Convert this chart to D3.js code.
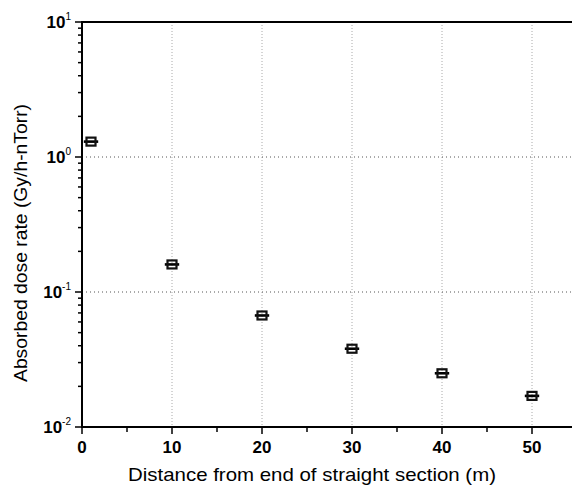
<!DOCTYPE html>
<html>
<head>
<meta charset="utf-8">
<script src="https://cdn.jsdelivr.net/npm/d3@7"></script>
<style>
  body { margin: 0; background: #fff; overflow: hidden; }
  svg { font-family: "Liberation Sans", Arial, sans-serif; display: block; }
</style>
</head>
<body>
<svg id="chart" width="572" height="489"></svg>
<script>
// data
const distance = [1, 10, 20, 30, 40, 50];
const doseRate = [1.3, 0.16, 0.067, 0.038, 0.025, 0.017];
const xError = [0.8, 0.8, 0.8, 0.8, 0.8, 0.8];
const xTicks = [0, 10, 20, 30, 40, 50];
const yDecades = [-2, -1, 0, 1];

const W = 572;
const svg = d3.select('#chart');

const x = d3.scaleLinear().domain([0, 55]).range([82, 577]);
const y = d3.scaleLog().domain([0.01, 10]).range([427, 22]);

// grid
const grid = svg.append('g');
grid.selectAll('.vg').data(xTicks.filter(d => d > 0)).enter().append('line')
  .attr('x1', d => x(d)).attr('x2', d => x(d))
  .attr('y1', y(10)).attr('y2', y(0.01))
  .attr('stroke', '#aaa').attr('stroke-width', 1).attr('stroke-dasharray', '1,2');
grid.selectAll('.hg').data([1, 0.1]).enter().append('line')
  .attr('x1', x(0)).attr('x2', W)
  .attr('y1', d => y(d)).attr('y2', d => y(d))
  .attr('stroke', '#555').attr('stroke-width', 1).attr('stroke-dasharray', '1,3');

// top line
svg.append('line').attr('x1', x(0)).attr('x2', W)
  .attr('y1', y(10)).attr('y2', y(10))
  .attr('stroke', '#000').attr('stroke-width', 2);

// x axis
const xAxis = svg.append('g').attr('transform', `translate(0,${y(0.01)})`);
xAxis.append('line').attr('x1', x(0)).attr('x2', W).attr('stroke', '#000').attr('stroke-width', 2);
xAxis.selectAll('.maj').data(xTicks).enter().append('line')
  .attr('x1', d => x(d)).attr('x2', d => x(d)).attr('y1', 0).attr('y2', 7)
  .attr('stroke', '#000').attr('stroke-width', 1.5);
xAxis.selectAll('.min').data(d3.range(5, 55, 10)).enter().append('line')
  .attr('x1', d => x(d)).attr('x2', d => x(d)).attr('y1', 0).attr('y2', 5)
  .attr('stroke', '#000').attr('stroke-width', 1.5);
xAxis.selectAll('text').data(xTicks).enter().append('text')
  .attr('x', d => x(d)).attr('y', 26)
  .attr('text-anchor', 'middle').attr('font-size', 17).attr('font-weight', 'bold')
  .text(d => d);

// y axis
const yAxis = svg.append('g').attr('transform', `translate(${x(0)},0)`);
yAxis.append('line').attr('y1', y(0.01) + 1).attr('y2', y(10) - 1).attr('stroke', '#000').attr('stroke-width', 2);
yAxis.selectAll('.maj').data(yDecades).enter().append('line')
  .attr('x1', -7).attr('x2', 0).attr('y1', d => y(Math.pow(10, d))).attr('y2', d => y(Math.pow(10, d)))
  .attr('stroke', '#000').attr('stroke-width', 1.5);
const minors = [];
[-2, -1, 0].forEach(e => { for (let k = 2; k <= 9; k++) minors.push(k * Math.pow(10, e)); });
yAxis.selectAll('.min').data(minors).enter().append('line')
  .attr('x1', -4).attr('x2', 0).attr('y1', d => y(d)).attr('y2', d => y(d))
  .attr('stroke', '#000').attr('stroke-width', 1.5);
const yl = yAxis.selectAll('.lab').data(yDecades).enter().append('text')
  .attr('x', -11).attr('y', d => y(Math.pow(10, d)) + 6)
  .attr('text-anchor', 'end').attr('font-size', 17).attr('font-weight', 'bold');
yl.append('tspan').text('10');
yl.append('tspan').attr('dy', -8).attr('font-size', 10).attr('font-weight', 'normal').text(d => d < 0 ? '-' + Math.abs(d) : d);

// data markers
const pts = svg.append('g');
const pd = distance.map((d, i) => ({ x: d, y: doseRate[i], e: xError[i] }));
pts.selectAll('.eb').data(pd).enter().append('line')
  .attr('x1', d => x(d.x - d.e)).attr('x2', d => x(d.x + d.e))
  .attr('y1', d => y(d.y)).attr('y2', d => y(d.y))
  .attr('stroke', '#000').attr('stroke-width', 2.6);
pts.selectAll('rect').data(pd).enter().append('rect')
  .attr('x', d => x(d.x) - 4.5).attr('y', d => y(d.y) - 4)
  .attr('width', 9).attr('height', 8)
  .attr('fill', 'none').attr('stroke', '#111').attr('stroke-width', 2.2);

// axis titles
svg.append('text').attr('x', 312).attr('y', 481)
  .attr('text-anchor', 'middle').attr('font-size', 18.5)
  .attr('textLength', 368).attr('lengthAdjust', 'spacingAndGlyphs')
  .text('Distance from end of straight section (m)');
svg.append('text').attr('transform', 'translate(27,243) rotate(-90)')
  .attr('text-anchor', 'middle').attr('font-size', 18.5)
  .attr('textLength', 278).attr('lengthAdjust', 'spacingAndGlyphs')
  .text('Absorbed dose rate (Gy/h-nTorr)');
</script>
</body>
</html>
